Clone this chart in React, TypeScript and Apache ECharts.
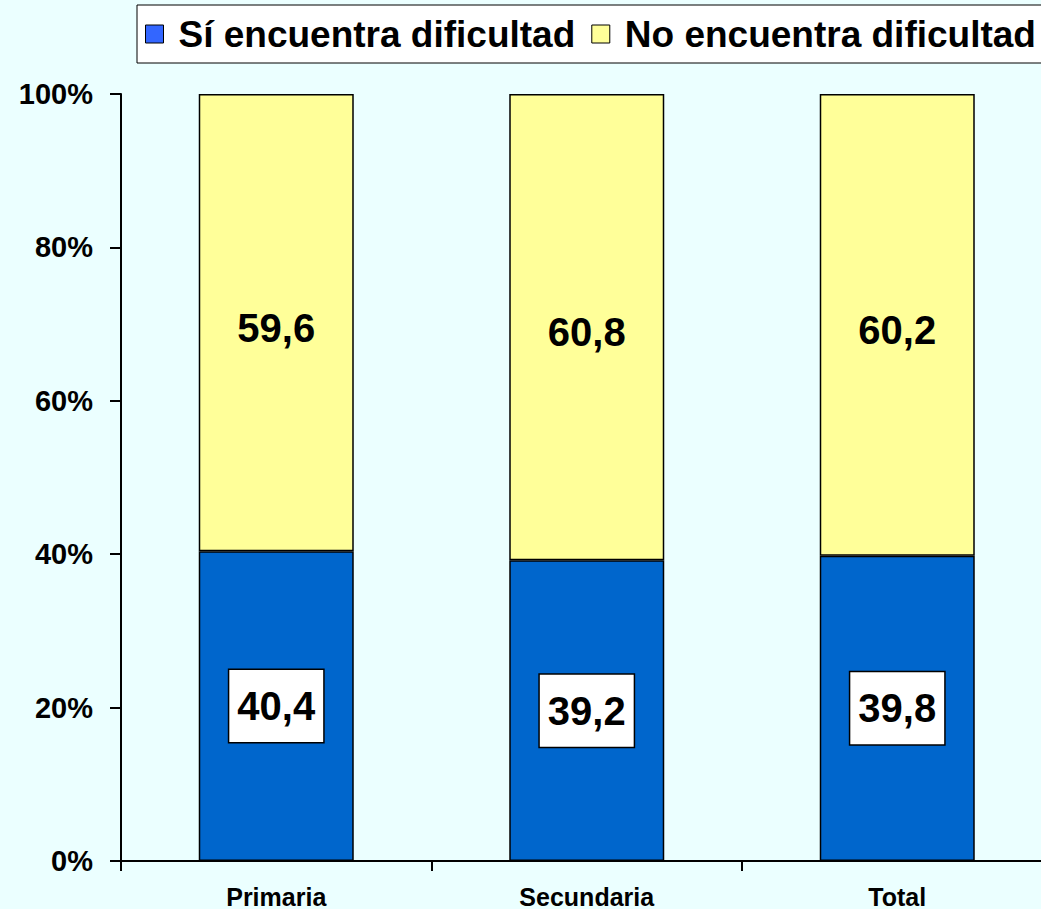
import React, { useEffect, useRef } from "react";
import * as echarts from "echarts";

const categories = ["Primaria", "Secundaria", "Total"];
const siValues = [40.4, 39.2, 39.8];
const noValues = [59.6, 60.8, 60.2];
const seriesNames = ["Sí encuentra dificultad", "No encuentra dificultad"];
const yTicks = [0, 20, 40, 60, 80, 100];

const fmt = (v: number) => v.toFixed(1).replace(".", ",");

export default function App() {
  const ref = useRef<HTMLDivElement>(null);
  useEffect(() => {
    const chart = echarts.init(ref.current!, null, { renderer: "svg" });
    chart.setOption({
      animation: false,
      backgroundColor: "#EBFFFF",
      textStyle: { fontFamily: "Arial, Liberation Sans, sans-serif" },
      legend: {
        orient: "horizontal",
        left: 137,
        top: 5,
        padding: [8, 10, 8, 8],
        itemGap: 16,
        itemWidth: 18,
        itemHeight: 18,
        backgroundColor: "#FFFFFF",
        borderColor: "#000000",
        borderWidth: 1,
        borderRadius: 0,
        textStyle: {
          fontSize: 37,
          fontWeight: "bold",
          color: "#000000",
          padding: [0, 0, 0, 10],
          lineHeight: 42,
        },
        data: [
          { name: seriesNames[0], icon: "rect", itemStyle: { color: "#3366FF", borderColor: "#000", borderWidth: 1 } },
          { name: seriesNames[1], icon: "rect", itemStyle: { color: "#FFFF99", borderColor: "#000", borderWidth: 1 } },
        ],
      },
      grid: { left: 121, top: 94, bottom: 48, right: 17.5, containLabel: false },
      xAxis: {
        type: "category",
        data: categories,
        axisLine: { lineStyle: { color: "#000", width: 2 } },
        axisTick: { show: true, length: 10, lineStyle: { color: "#000", width: 2 } },
        axisLabel: { fontSize: 25, fontWeight: "bold", color: "#000", margin: 23 },
      },
      yAxis: {
        type: "value",
        min: yTicks[0],
        max: yTicks[yTicks.length - 1],
        interval: 20,
        splitLine: { show: false },
        axisLine: { show: true, lineStyle: { color: "#000", width: 2 } },
        axisTick: { show: true, length: 11, lineStyle: { color: "#000", width: 2 } },
        axisLabel: {
          fontSize: 29,
          fontWeight: "bold",
          color: "#000",
          margin: 28,
          formatter: "{value}%",
        },
      },
      series: [
        {
          name: seriesNames[0],
          type: "bar",
          stack: "total",
          barWidth: 155,
          data: siValues,
          itemStyle: { color: "#0066CC", borderColor: "#000", borderWidth: 1.5 },
          label: {
            show: true,
            position: "inside",
            formatter: (p: any) => fmt(p.value),
            fontSize: 40,
            fontWeight: "bold",
            color: "#000",
            backgroundColor: "#FFFFFF",
            borderColor: "#000",
            borderWidth: 1.5,
            padding: [17, 8, 15, 8],
          },
        },
        {
          name: seriesNames[1],
          type: "bar",
          stack: "total",
          barWidth: 155,
          data: noValues,
          itemStyle: { color: "#FFFF99", borderColor: "#000", borderWidth: 1.5 },
          label: {
            show: true,
            position: "inside",
            offset: [0, 5],
            formatter: (p: any) => fmt(p.value),
            fontSize: 40,
            fontWeight: "bold",
            color: "#000",
          },
        },
      ],
    });
    return () => chart.dispose();
  }, []);
  return (
    <div
      style={{
        position: "absolute",
        left: 0,
        top: 0,
        width: 1041,
        height: 909,
        overflow: "hidden",
        background: "#EBFFFF",
      }}
    >
      <div ref={ref} style={{ width: 1070, height: 909 }} />
    </div>
  );
}
